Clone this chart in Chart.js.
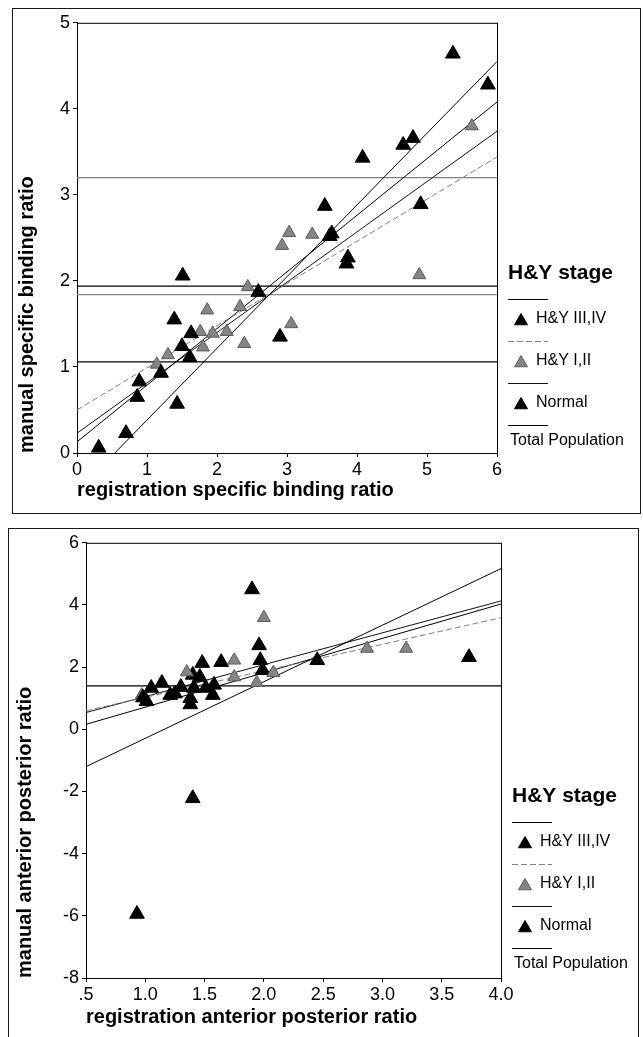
<!DOCTYPE html>
<html>
<head>
<meta charset="utf-8">
<script src="https://cdn.jsdelivr.net/npm/chart.js@4.4.1/dist/chart.umd.min.js"></script>
<style>
  html, body { margin: 0; padding: 0; background: #fff; }
  body { width: 643px; height: 1037px; position: relative; overflow: hidden; }
  canvas { position: absolute; }
  .box { position: absolute; border: 1.5px solid #1a1a1a; box-sizing: border-box; pointer-events: none; }
</style>
</head>
<body>
<canvas id="sbr" width="627" height="504" style="left:13px;top:9px"></canvas>
<div class="box" style="left:12px;top:8px;width:629px;height:506px"></div>
<canvas id="apr" width="629" height="508" style="left:9px;top:529px"></canvas>
<div class="box" style="left:8px;top:528px;width:631px;height:520px"></div>
<script>
// groups, same for both panels
const legendTitle = 'H&Y stage';
const groupLabels = ['H&Y III,IV', 'H&Y I,II', 'Normal'];
const totalLabel = 'Total Population';

// upper panel: specific binding ratio, [registration, manual]
const sbrTicksX = ['0', '1', '2', '3', '4', '5', '6'];
const sbrTicksY = ['0', '1', '2', '3', '4', '5'];
const sbrHY34 = [[0.31, 0.06], [0.70, 0.23], [0.86, 0.65], [0.89, 0.83], [1.20, 0.93], [1.43, 0.57],
  [1.61, 1.11], [1.50, 1.24], [1.63, 1.39], [1.39, 1.55], [1.51, 2.06], [2.59, 1.87], [2.90, 1.35]];
const sbrHY12 = [[1.14, 1.03], [1.30, 1.14], [1.80, 1.23], [1.76, 1.41], [1.94, 1.39], [2.14, 1.41],
  [2.39, 1.27], [1.86, 1.66], [2.33, 1.70], [2.44, 1.93], [3.06, 1.50], [2.93, 2.41], [3.03, 2.56],
  [3.36, 2.54], [4.89, 2.07], [5.64, 3.80]];
const sbrNormal = [[3.54, 2.87], [3.61, 2.52], [3.64, 2.55], [3.87, 2.27], [3.85, 2.20], [4.08, 3.43],
  [4.66, 3.58], [4.80, 3.66], [4.91, 2.89], [5.37, 4.64], [5.87, 4.28]];
// fit lines (end points): III,IV / I,II / Normal / Total
const sbrFits = [[[0.54, 0], [6, 4.55]], [[0, 0.50], [6, 3.44]], [[0, 0.23], [6, 3.74]], [[0, 0.13], [6, 4.08]]];
const sbrMeans = [3.2, 1.94, 1.84, 1.06];

// lower panel: anterior posterior ratio
const aprTicksX = ['.5', '1.0', '1.5', '2.0', '2.5', '3.0', '3.5', '4.0'];
const aprTicksY = ['-8', '-6', '-4', '-2', '0', '2', '4', '6'];
const aprHY34 = [[0.93, -5.94], [1.40, -2.22], [0.98, 1.02], [1.01, 0.90], [1.05, 1.33], [1.14, 1.49],
  [1.21, 1.10], [1.25, 1.15], [1.30, 1.36], [1.38, 1.00], [1.38, 0.80], [1.41, 1.33], [1.51, 1.33],
  [1.57, 1.10], [1.58, 1.43]];
const aprHY12 = [[0.97, 1.10], [1.35, 1.84], [1.75, 2.22], [1.75, 1.68], [1.94, 1.50], [2.00, 3.59],
  [2.08, 1.82], [2.87, 2.60], [3.20, 2.60]];
const aprNormal = [[1.40, 1.75], [1.46, 1.68], [1.48, 2.13], [1.64, 2.16], [1.90, 4.50], [1.96, 2.70],
  [1.97, 2.22], [1.99, 1.90], [2.45, 2.22], [3.73, 2.32]];
const aprFits = [[[0.5, -1.2], [4, 5.17]], [[0.5, 0.60], [4, 3.59]], [[0.5, 0.54], [4, 4.13]], [[0.5, 0.16], [4, 4.03]]];
const aprMeans = [1.4];

const FONT = '"Liberation Sans", Arial, sans-serif';
const markerFill = ['#000', '#858585', '#000'];
const markerEdge = ['#000', '#5a5a5a', '#000'];
const fitStyles = [
  { color: '#000', dash: [] },
  { color: '#808080', dash: [6, 3] },
  { color: '#111', dash: [] },
  { color: '#000', dash: [] }
];

function tri(ctx, x, y, r) {
  ctx.beginPath();
  ctx.moveTo(x, y - r);
  ctx.lineTo(x + r * 0.866, y + r / 2);
  ctx.lineTo(x - r * 0.866, y + r / 2);
  ctx.closePath();
  ctx.fill();
  ctx.stroke();
}

// frame round the plot area
const plotFrame = {
  id: 'plotFrame',
  beforeDatasetsDraw(chart) {
    const { ctx, chartArea: a } = chart;
    ctx.save();
    ctx.strokeStyle = '#000';
    ctx.lineWidth = 1;
    ctx.strokeRect(a.left + 0.5, a.top + 0.5, a.width, a.height);
    ctx.restore();
  }
};

// SPSS style legend: a line above each entry
const hyLegend = {
  id: 'hyLegend',
  afterDraw(chart, args, opts) {
    const ctx = chart.ctx;
    const x0 = chart.chartArea.right + opts.dx;
    let y = opts.top;
    ctx.save();
    ctx.beginPath();
    ctx.rect(0, 0, opts.clipRight, chart.height);
    ctx.clip();
    ctx.fillStyle = '#000';
    ctx.textBaseline = 'middle';
    ctx.font = 'bold 21px ' + FONT;
    ctx.fillText(legendTitle, x0, y);
    ctx.font = '16px ' + FONT;
    const entries = groupLabels.concat([totalLabel]);
    entries.forEach((label, i) => {
      y += i === 0 ? 26 : 22;
      ctx.beginPath();
      ctx.setLineDash(fitStyles[i].dash);
      ctx.strokeStyle = fitStyles[i].color;
      ctx.lineWidth = 1;
      ctx.moveTo(x0, y + 0.5);
      ctx.lineTo(x0 + 40, y + 0.5);
      ctx.stroke();
      ctx.setLineDash([]);
      if (i < groupLabels.length) {
        y += 20;
        ctx.fillStyle = markerFill[i];
        ctx.strokeStyle = markerEdge[i];
        tri(ctx, x0 + 13, y + 2, 7.5);
        ctx.fillStyle = '#000';
        ctx.fillText(label, x0 + 28, y);
      } else {
        y += 16;
        ctx.fillStyle = '#000';
        ctx.fillText(label, x0 + 2, y);
      }
    });
    ctx.restore();
  }
};

function toXY(pts) {
  return pts.map(p => ({ x: p[0], y: p[1] }));
}

function makePanel(id, p) {
  const datasets = [];
  p.groups.forEach((pts, i) => datasets.push({
    label: groupLabels[i],
    data: toXY(pts),
    pointStyle: 'triangle',
    pointRadius: i === 1 ? 7.5 : 8.5,
    backgroundColor: markerFill[i],
    borderColor: markerEdge[i],
    borderWidth: 1,
    order: 0
  }));
  p.fits.forEach((seg, i) => datasets.push({
    label: (i < groupLabels.length ? groupLabels[i] : totalLabel) + ' fit',
    data: toXY(seg),
    showLine: true,
    pointRadius: 0,
    borderColor: fitStyles[i].color,
    borderDash: fitStyles[i].dash,
    borderWidth: 1,
    order: 1
  }));
  p.means.forEach((v, i) => datasets.push({
    label: 'mean ' + i,
    data: [{ x: p.xMin, y: v }, { x: p.xMax, y: v }],
    showLine: true,
    pointRadius: 0,
    borderColor: p.meanColors[i],
    borderWidth: 1.2,
    order: 2
  }));

  const tickFont = { family: FONT, size: 18 };
  const titleFont = { family: FONT, size: 20, weight: 'bold' };

  return new Chart(document.getElementById(id), {
    type: 'scatter',
    data: { datasets },
    options: {
      responsive: false,
      animation: false,
      events: [],
      layout: { autoPadding: false, padding: { left: 0, top: 8, right: p.rightPad, bottom: 0 } },
      plugins: {
        legend: { display: false },
        tooltip: { enabled: false },
        hyLegend: { dx: 11, top: p.legendTop, clipRight: p.clipRight }
      },
      scales: {
        x: {
          type: 'linear', min: p.xMin, max: p.xMax,
          ticks: { stepSize: p.xStep, autoSkip: false, maxRotation: 0, color: '#000', font: tickFont, padding: 2,
            callback: (v, i) => p.ticksX[i] },
          grid: { drawOnChartArea: false, color: '#000', tickLength: 4 },
          border: { color: '#000', width: 1 },
          title: { display: true, text: p.xTitle, align: 'start', color: '#000', font: titleFont,
            padding: { top: 0, bottom: p.xTitlePad } },
          afterFit: s => { s.height = p.xAxisH; }
        },
        y: {
          type: 'linear', min: p.yMin, max: p.yMax,
          ticks: { stepSize: p.yStep, autoSkip: false, color: '#000', font: tickFont, padding: 3,
            callback: (v, i) => p.ticksY[i] },
          grid: { drawOnChartArea: false, color: '#000', tickLength: 4 },
          border: { color: '#000', width: 1 },
          title: { display: true, text: p.yTitle, align: 'start', color: '#000', font: titleFont,
            padding: { top: p.yTitlePad, bottom: 0 } },
          afterFit: s => { s.width = p.yAxisW; }
        }
      }
    },
    plugins: [plotFrame, hyLegend]
  });
}

makePanel('sbr', {
  groups: [sbrHY34, sbrHY12, sbrNormal], fits: sbrFits, means: sbrMeans,
  meanColors: ['#808080', '#000', '#8a8a8a', '#000'],
  xMin: 0, xMax: 6, xStep: 1, yMin: 0, yMax: 5, yStep: 1,
  ticksX: sbrTicksX, ticksY: sbrTicksY,
  xTitle: 'registration specific binding ratio', yTitle: 'manual specific binding ratio',
  rightPad: 143, xAxisH: 60, yAxisW: 64, xTitlePad: 11, yTitlePad: 2,
  legendTop: 264, clipRight: 611
});

makePanel('apr', {
  groups: [aprHY34, aprHY12, aprNormal], fits: aprFits, means: aprMeans,
  meanColors: ['#000'],
  xMin: 0.5, xMax: 4, xStep: 0.5, yMin: -8, yMax: 6, yStep: 2,
  ticksX: aprTicksX, ticksY: aprTicksY,
  xTitle: 'registration anterior posterior ratio', yTitle: 'manual anterior posterior ratio',
  rightPad: 137, xAxisH: 59, yAxisW: 77, xTitlePad: 8, yTitlePad: 4,
  legendTop: 267, clipRight: 629
});
</script>
</body>
</html>
